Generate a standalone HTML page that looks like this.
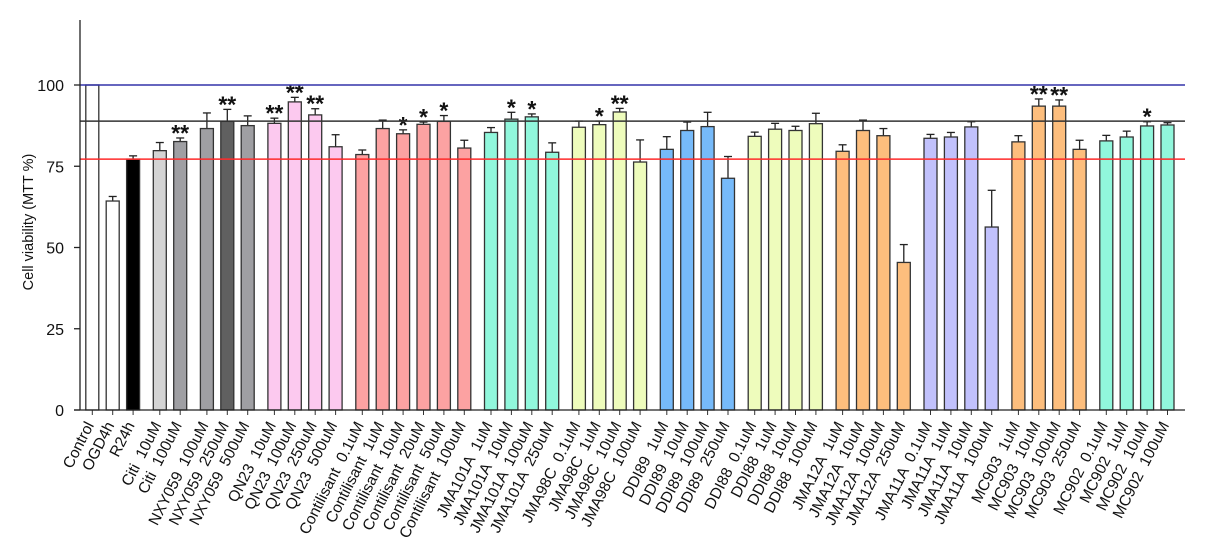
<!DOCTYPE html>
<html><head><meta charset="utf-8"><style>
html,body{margin:0;padding:0;background:#fff;}
svg{display:block;font-family:"Liberation Sans",Arial,sans-serif;}
</style></head><body>
<svg id="chart" width="1221" height="551" viewBox="0 0 1221 551"></svg>
<script>
const categories = ["Control","OGD4h","R24h","Citi  10uM","Citi  100uM","NXY059  100uM","NXY059  250uM","NXY059  500uM","QN23  10uM","QN23  100uM","QN23  250uM","QN23  500uM","Contilisant  0.1uM","Contilisant  1uM","Contilisant  10uM","Contilisant  20uM","Contilisant  50uM","Contilisant  100uM","JMA101A  1uM","JMA101A  10uM","JMA101A  100uM","JMA101A  250uM","JMA98C  0.1uM","JMA98C  1uM","JMA98C  10uM","JMA98C  100uM","DDI89  1uM","DDI89  10uM","DDI89  100uM","DDI89  250uM","DDI88  0.1uM","DDI88  1uM","DDI88  10uM","DDI88  100uM","JMA12A  1uM","JMA12A  10uM","JMA12A  100uM","JMA12A  250uM","JMA11A  0.1uM","JMA11A  1uM","JMA11A  10uM","JMA11A  100uM","MC903  1uM","MC903  10uM","MC903  100uM","MC903  250uM","MC902  0.1uM","MC902  1uM","MC902  10uM","MC902  100uM"];
const groups = [0,0,0,1,1,2,2,2,3,3,3,3,4,4,4,4,4,4,5,5,5,5,6,6,6,6,7,7,7,7,8,8,8,8,9,9,9,9,10,10,10,10,11,11,11,11,12,12,12,12];
const values = [100,64.3,77.2,79.8,82.6,86.6,88.8,87.5,88.2,94.8,90.8,81,78.6,86.6,85,87.9,88.8,80.6,85.4,89.5,90.2,79.3,87,87.8,91.7,76.3,80.2,86,87.2,71.3,84.2,86.4,86,88.1,79.6,86,84.4,45.4,83.6,84,87.1,56.3,82.5,93.5,93.5,80.2,82.8,84,87.4,87.7];
const errors = [0,1.4,1,2.5,1.1,4.8,3.7,3,1.6,1.4,1.9,3.7,1.4,2.6,1.2,0.7,1.8,2.4,1.5,2.1,0.9,2.9,1.9,1.1,1.1,6.8,3.9,2.6,4.4,6.7,1.3,1.8,1.3,3.2,2,3.2,2.2,5.5,1.2,1.4,1.6,11.3,1.9,2.2,1.9,2.8,1.7,1.8,1.3,0.7];
const stars = ["","","","","**","","**","","**","**","**","","","","*","*","*","","","*","*","","","*","**","","","","","","","","","","","","","","","","","","","**","**","","","","*",""];
const colors = ["#ffffff","#ffffff","#000000","#d4d4d4","#9f9fa3","#9f9fa3","#606060","#9f9fa3","#fcc9ef","#fcc9ef","#fcc9ef","#fcc9ef","#fca2a2","#fca2a2","#fca2a2","#fca2a2","#fca2a2","#fca2a2","#91f7dc","#91f7dc","#91f7dc","#91f7dc","#eefcbc","#eefcbc","#eefcbc","#eefcbc","#76bafa","#76bafa","#76bafa","#76bafa","#eefcbc","#eefcbc","#eefcbc","#eefcbc","#fdbe7d","#fdbe7d","#fdbe7d","#fdbe7d","#c1c1fc","#c1c1fc","#c1c1fc","#c1c1fc","#fdbe7d","#fdbe7d","#fdbe7d","#fdbe7d","#91f7dc","#91f7dc","#91f7dc","#91f7dc"];
const yTicks = [0,25,50,75,100];
const refLines = [100,88.9,77.2];
const refColors = ["#3333aa","#333333","#ff2a2a"];

const NS="http://www.w3.org/2000/svg";
const svg=document.getElementById('chart');
const X0=80, X1=1185, Y0=410, PXU=3.25;
const y=v=>Y0-v*PXU;
const x=i=>92.3+i*20.4+groups[i]*6.3;
const BW=13;
function mk(tag,attrs,parent){const e=document.createElementNS(NS,tag);for(const k in attrs)e.setAttribute(k,attrs[k]);(parent||svg).appendChild(e);return e;}

values.forEach((v,i)=>{
  const cx=x(i);
  const g=mk('g',{});
  
  
  const e=errors[i];
  if(e>0){
    mk('line',{x1:cx,x2:cx,y1:y(v),y2:y(v+e),stroke:'#222','stroke-width':1.3},g);
    mk('line',{x1:cx-4,x2:cx+4,y1:y(v+e),y2:y(v+e),stroke:'#222','stroke-width':1.3},g);
  }
  mk('rect',{x:cx-BW/2,y:y(v),width:BW,height:Y0-y(v),fill:colors[i],stroke:'#333','stroke-width':1.3},g);
  if(stars[i]){
    const t=mk('text',{x:cx,y:y(v+e)+3,'text-anchor':'middle','font-size':23,'font-weight':'bold',fill:'#111'});
    t.textContent=stars[i];
    
    
  }
  mk('line',{x1:cx,x2:cx,y1:Y0,y2:Y0+5,stroke:'#333','stroke-width':1});
  const lb=mk('text',{x:cx+2,y:Y0+15,'text-anchor':'end','font-size':15.5,fill:'#111',transform:`rotate(-63 ${cx+2} ${Y0+15})`});
  lb.setAttribute('xml:space','preserve');
  lb.style.whiteSpace='pre';
  lb.textContent=categories[i];
  
  
});

refLines.forEach((r,k)=>{
  const l=mk('line',{x1:X0,x2:X1,y1:y(r),y2:y(r),stroke:refColors[k],'stroke-width':1.5});
  
  
});

const ya=mk('line',{x1:X0,x2:X0,y1:20,y2:Y0,stroke:'#222','stroke-width':1.3});


const xa=mk('line',{x1:X0-6,x2:X1,y1:Y0,y2:Y0,stroke:'#222','stroke-width':1.3});


yTicks.forEach(t=>{
  mk('line',{x1:X0-6,x2:X0,y1:y(t),y2:y(t),stroke:'#222','stroke-width':1.3});
  const tl=mk('text',{x:X0-16,y:y(t)+6,'text-anchor':'end','font-size':16,fill:'#111'});
  tl.textContent=t;
  
  
});
const yt=mk('text',{x:33,y:222,'text-anchor':'middle','font-size':14.5,fill:'#111',transform:'rotate(-90 33 222)'});
yt.textContent='Cell viability (MTT %)';


</script>
</body></html>
